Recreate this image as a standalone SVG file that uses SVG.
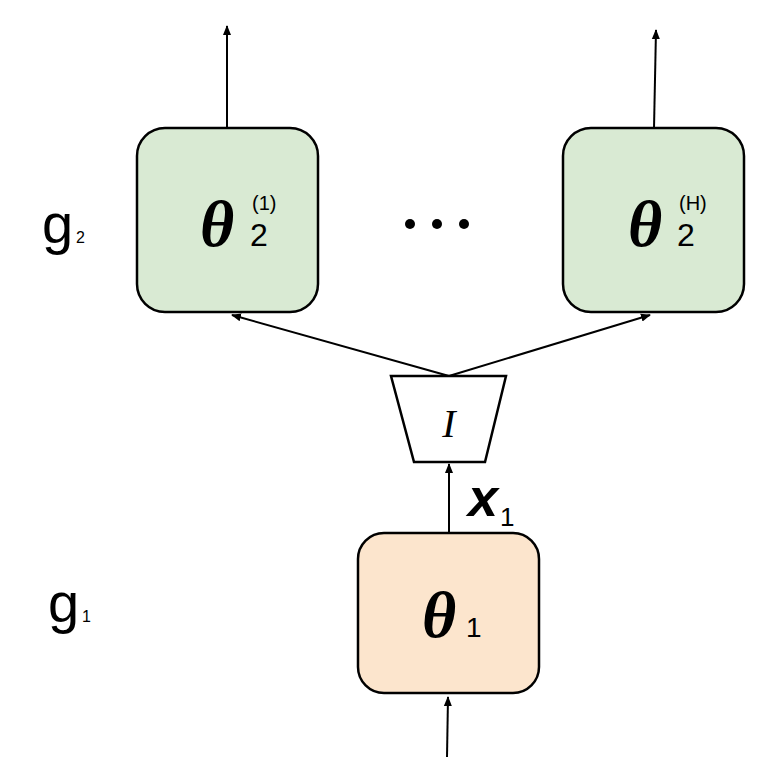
<svg xmlns="http://www.w3.org/2000/svg" width="768" height="768" viewBox="0 0 768 768">
<style>
.box{stroke:#000;stroke-width:2.5}
.c{stroke:#000;stroke-width:2;fill:none;marker-end:url(#a)}
.t{font-family:"Liberation Sans",Arial,sans-serif}
.th{font-family:"Liberation Serif","Times New Roman",serif;font-weight:bold;font-style:italic;font-size:66px}
</style>
<defs><marker id="a" markerWidth="10" markerHeight="10" refX="9" refY="5" orient="auto" markerUnits="userSpaceOnUse"><path d="M0,1 L10,5 L0,9 z" fill="#000"/></marker></defs>
<rect width="768" height="768" fill="#fff"/>
<g id="connectors">
<line class="c" x1="227" y1="128" x2="227" y2="26"/>
<line class="c" x1="654" y1="128" x2="656" y2="30"/>
<line class="c" x1="449" y1="376" x2="232" y2="315"/>
<line class="c" x1="449" y1="376" x2="650" y2="315"/>
<line class="c" x1="449" y1="533" x2="449" y2="464"/>
<line class="c" x1="447" y1="757" x2="448" y2="697"/>
</g>
<g id="g2label"><text class="t" x="42" y="243" font-size="56">g</text><text class="t" x="76" y="243" font-size="16">2</text></g>
<g id="g1label"><text class="t" x="48" y="622" font-size="56">g</text><text class="t" x="82" y="622" font-size="16">1</text></g>
<g id="theta2_1"><rect class="box" x="137" y="128" width="181" height="184" rx="28" fill="#d9ead3"/>
<text class="th" x="200" y="246">θ</text><text class="t" x="250" y="246" font-size="32">2</text><text class="t" x="252" y="210" font-size="20">(1)</text></g>
<g id="dots"><circle cx="410" cy="224" r="5"/><circle cx="437" cy="224" r="5"/><circle cx="464" cy="224" r="5"/></g>
<g id="theta2_H"><rect class="box" x="563" y="128" width="181" height="184" rx="28" fill="#d9ead3"/>
<text class="th" x="628" y="246">θ</text><text class="t" x="677" y="246" font-size="32">2</text><text class="t" x="679" y="210" font-size="20">(H)</text></g>
<g id="I"><polygon class="box" stroke-width="2" points="391,376 506,376 485,462 414,462" fill="#fff"/>
<text x="449" y="437" font-family="Liberation Serif,serif" font-style="italic" font-size="40" text-anchor="middle">I</text></g>
<g id="x1"><text class="t" x="468" y="516" font-size="54" font-weight="bold" font-style="italic">x</text><text class="t" x="500" y="526" font-size="26">1</text></g>
<g id="theta1"><rect class="box" x="358" y="533" width="181" height="160" rx="26" fill="#fce5cd"/>
<text class="th" x="422" y="637">θ</text><text class="t" x="466" y="637" font-size="28">1</text></g>
</svg>
